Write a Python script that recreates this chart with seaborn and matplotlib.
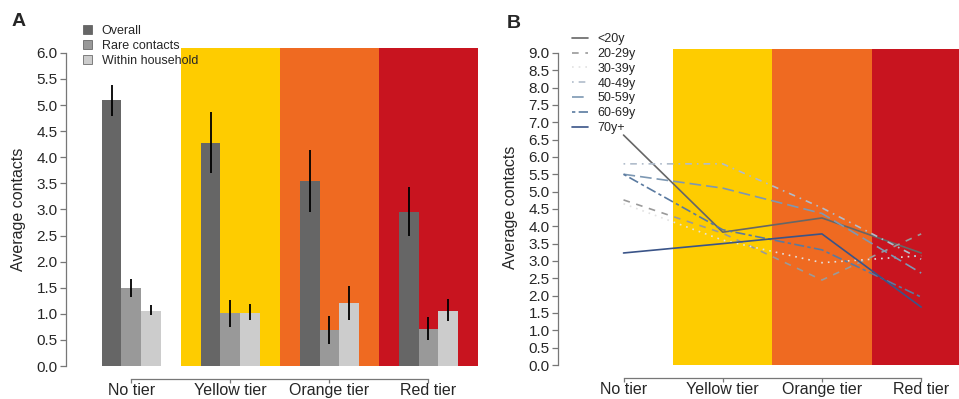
import pandas as pd
import seaborn as sns
import matplotlib.pyplot as plt
from matplotlib.patches import Patch
from matplotlib.lines import Line2D

# data
tiers = ["No tier", "Yellow tier", "Orange tier", "Red tier"]
tier_colors = [None, "#FECC00", "#EF6A21", "#C8141F"]

bar_types = ["Overall", "Rare contacts", "Within household"]
bar_colors = ["#666666", "#999999", "#cccccc"]
overall = [5.10, 4.27, 3.54, 2.95]
overall_lo = [4.79, 3.70, 2.95, 2.49]
overall_hi = [5.38, 4.87, 4.14, 3.43]
rare = [1.49, 1.01, 0.69, 0.71]
rare_lo = [1.32, 0.75, 0.42, 0.50]
rare_hi = [1.67, 1.27, 0.96, 0.94]
within = [1.05, 1.01, 1.20, 1.06]
within_lo = [0.98, 0.88, 0.88, 0.86]
within_hi = [1.17, 1.18, 1.53, 1.28]

ages = ["<20y", "20-29y", "30-39y", "40-49y", "50-59y", "60-69y", "70y+"]
age_colors = ["#666666", "#9a9a9a", "#e2e2e2", "#b0bccb", "#7d98b3", "#5a7aa0", "#3a5488"]
age_dashes = ["", (4, 4), (1, 3), (1, 3, 4, 3), (7, 3), (2, 2, 6, 2), ""]
age_lt20 = [6.63, 3.83, 4.24, 3.23]
age_20_29 = [4.76, 3.80, 2.45, 3.78]
age_30_39 = [4.65, 3.60, 2.95, 3.15]
age_40_49 = [5.80, 5.80, 4.53, 3.05]
age_50_59 = [5.50, 5.10, 4.37, 2.65]
age_60_69 = [5.50, 3.90, 3.32, 1.96]
age_70 = [3.23, 3.50, 3.78, 1.67]

# long tables
df_a = pd.DataFrame({
    "tier": tiers * 3,
    "type": [t for t in bar_types for _ in tiers],
    "value": overall + rare + within,
})
age_vals = [age_lt20, age_20_29, age_30_39, age_40_49, age_50_59, age_60_69, age_70]
df_b = pd.DataFrame({
    "pos": list(range(len(tiers))) * len(ages),
    "age": [a for a in ages for _ in tiers],
    "value": [v for vals in age_vals for v in vals],
})

sns.set_style("ticks")
plt.rcParams["font.family"] = ["Liberation Sans", "DejaVu Sans"]

fig = plt.figure(figsize=(9.59, 3.99), dpi=100)
axA = fig.add_axes([0.0688, 0.0827, 0.4296, 0.7978])
axB = fig.add_axes([0.5819, 0.0852, 0.4190, 0.7910])

spine_col = "#777777"

def style_axis(ax, ymax, top):
    for i, c in enumerate(tier_colors):
        if c:
            ax.axvspan(i - 0.5, i + 0.5, color=c, lw=0, zorder=0)
    ax.set_ylim(0, top)
    ax.set_yticks([i * 0.5 for i in range(int(ymax * 2) + 1)])
    ax.set_yticklabels([f"{i * 0.5:.1f}" for i in range(int(ymax * 2) + 1)])
    ax.set_xticks(range(len(tiers)))
    ax.set_xticklabels(tiers)
    sns.despine(ax=ax)
    ax.spines["bottom"].set_position(("outward", 9.4))
    ax.spines["bottom"].set_bounds(0, 3)
    ax.spines["left"].set_bounds(0, ymax)
    for s in ["bottom", "left"]:
        ax.spines[s].set_color(spine_col)
        ax.spines[s].set_linewidth(0.9)
    ax.tick_params(axis="y", labelsize=11, length=4.5, pad=1.5, color=spine_col, width=0.9)
    ax.tick_params(axis="x", labelsize=11.5, length=2.8, pad=0, color=spine_col, width=0.9)
    ax.set_xlabel("")
    ax.set_ylabel("Average contacts", fontsize=11.5)

# Panel A: bars
sns.barplot(data=df_a, x="tier", y="value", hue="type", hue_order=bar_types,
            palette=bar_colors, width=0.6, errorbar=None, saturation=1,
            linewidth=0, legend=False, ax=axA)
for cont, lo, hi in zip(axA.containers, [overall_lo, rare_lo, within_lo],
                        [overall_hi, rare_hi, within_hi]):
    for bar, l, h in zip(cont, lo, hi):
        xc = bar.get_x() + bar.get_width() / 2
        axA.vlines(xc, l, h, color="black", lw=1.3, zorder=3)
style_axis(axA, 6.0, 6.1)
axA.set_xlim(-0.66, 3.5)
axA.yaxis.set_label_coords(-0.097, 0.493)

handles_a = [Patch(facecolor=c, edgecolor="#555555", lw=0.5) for c in bar_colors]
axA.legend(handles_a, bar_types, loc="upper left", bbox_to_anchor=(83 / 959, 1 - 25 / 399),
           bbox_transform=fig.transFigure, frameon=False, fontsize=9,
           handlelength=0.75, handleheight=0.75, handletextpad=0.75,
           labelspacing=0.24, borderpad=0, borderaxespad=0)

# Panel B: lines
sns.lineplot(data=df_b, x="pos", y="value", hue="age", style="age", hue_order=ages,
             style_order=ages, palette=dict(zip(ages, age_colors)),
             dashes=dict(zip(ages, age_dashes)), linewidth=1.2, legend=False,
             ax=axB, zorder=2)
style_axis(axB, 9.0, 9.1)
axB.set_xlim(-0.66, 3.39)
axB.yaxis.set_label_coords(-0.10, 0.50)

handles_b = []
for c, d in zip(age_colors, age_dashes):
    h = Line2D([0], [0], color=c, lw=1.2)
    if d:
        h.set_dashes(d)
    handles_b.append(h)
axB.legend(handles_b, ages, loc="upper left", bbox_to_anchor=(572 / 959, 1 - 33 / 399),
           bbox_transform=fig.transFigure, frameon=False, fontsize=9,
           handlelength=1.25, handletextpad=0.8, labelspacing=0.23,
           borderpad=0, borderaxespad=0)

fig.text(12 / 959, 1 - 22 / 399, "A", fontsize=14, fontweight="bold", va="center")
fig.text(507 / 959, 1 - 23 / 399, "B", fontsize=14, fontweight="bold", va="center")

fig.savefig("out.png", dpi=100)
